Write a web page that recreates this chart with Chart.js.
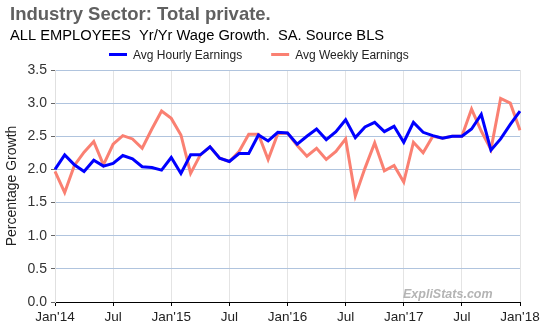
<!DOCTYPE html>
<html>
<head>
<meta charset="utf-8">
<script src="https://cdn.jsdelivr.net/npm/chart.js@4/dist/chart.umd.min.js"></script>
<style>
    html, body { margin: 0; padding: 0; background: #fff; }
    #box { width: 550px; height: 330px; }
</style>
</head>
<body>
<div id="box"><canvas id="wageChart"></canvas></div>
<script>

    // Jan'14 .. Jan'18, one entry per month
    const months = [];
    for (let y = 14; y <= 18; y++) {
        ["Jan","Feb","Mar","Apr","May","Jun","Jul","Aug","Sep","Oct","Nov","Dec"]
            .forEach(m => months.push(m + "'" + y));
    }
    months.length = 49;

    const tickLabels = ["Jan'14", "Jul", "Jan'15", "Jul", "Jan'16", "Jul", "Jan'17", "Jul", "Jan'18"];

    const seriesNames = ["Avg Hourly Earnings", "Avg Weekly Earnings"];

    const hourly = [
        2.00, 2.22, 2.07, 1.97, 2.14, 2.05, 2.09, 2.21, 2.16, 2.04, 2.03, 1.99,
        2.18, 1.94, 2.22, 2.22, 2.34, 2.17, 2.12, 2.24, 2.24, 2.52, 2.43, 2.56,
        2.55, 2.38, 2.50, 2.61, 2.45, 2.57, 2.75, 2.48, 2.64, 2.71, 2.57, 2.65,
        2.41, 2.71, 2.56, 2.51, 2.47, 2.50, 2.50, 2.61, 2.83, 2.29, 2.46, 2.68,
        2.88
    ];

    const weekly = [
        1.97, 1.65, 2.06, 2.26, 2.42, 2.07, 2.38, 2.51, 2.46, 2.32, 2.61, 2.88,
        2.77, 2.52, 1.94, 2.22, 2.34, 2.17, 2.12, 2.27, 2.53, 2.53, 2.15, 2.54,
        2.55, 2.36, 2.20, 2.32, 2.15, 2.27, 2.46, 1.60, 2.02, 2.40, 1.98, 2.06,
        1.81, 2.41, 2.25, 2.50, 2.47, 2.50, 2.50, 2.91, 2.58, 2.30, 3.07, 3.00,
        2.59
    ];

    const FONT = "'Liberation Sans', Arial, sans-serif";

    // header text, hand-drawn legend and the watermark
    const decor = {
        id: "decor",
        afterDraw(chart) {
            const c = chart.ctx;
            c.save();
            c.textBaseline = "alphabetic";
            c.textAlign = "left";

            c.fillStyle = "#606060";
            c.font = "bold 18.5px " + FONT;
            c.fillText("Industry Sector: Total private.", 10, 20);

            c.fillStyle = "#000";
            c.font = "14.7px " + FONT;
            c.fillText("ALL EMPLOYEES  Yr/Yr Wage Growth.  SA. Source BLS", 10, 40);

            c.font = "12px " + FONT;
            let x = 109;
            chart.data.datasets.forEach(ds => {
                c.strokeStyle = ds.borderColor;
                c.lineWidth = 3;
                c.beginPath();
                c.moveTo(x, 54.5);
                c.lineTo(x + 18, 54.5);
                c.stroke();
                c.fillStyle = "#222";
                c.fillText(ds.label, x + 24, 58.5);
                x += 24 + c.measureText(ds.label).width + 29;
            });

            c.fillStyle = "#b4b4b4";
            c.font = "italic bold 12.5px " + FONT;
            c.fillText("ExpliStats.com", 403, 298);
            c.restore();
        }
    };

    new Chart(document.getElementById("wageChart"), {
        type: "line",
        data: {
            labels: months,
            datasets: [{
                label: seriesNames[0],
                data: hourly,
                borderColor: "#0000ff",
                borderWidth: 3
            }, {
                label: seriesNames[1],
                data: weekly,
                borderColor: "#fa8072",
                borderWidth: 3
            }]
        },
        options: {
            responsive: true,
            maintainAspectRatio: false,
            animation: false,
            events: [],
            elements: {
                point: { radius: 0 },
                line: { tension: 0 }
            },
            layout: {
                padding: { top: 70, right: 30, bottom: 0, left: 0 }
            },
            plugins: {
                legend: { display: false },
                tooltip: { enabled: false }
            },
            scales: {
                x: {
                    afterFit: s => { s.height = 28; },
                    grid: {
                        color: ctx => ctx.index % 6 === 0 ? "#e4e4e4" : "rgba(0,0,0,0)",
                        tickColor: ctx => ctx.index % 6 === 0 ? "#000" : "rgba(0,0,0,0)",
                        tickLength: 4
                    },
                    border: { color: "#000", width: 1 },
                    ticks: {
                        autoSkip: false,
                        maxRotation: 0,
                        padding: 3,
                        color: "#222",
                        font: { family: FONT, size: 13.5 },
                        callback: (v, i) => i % 6 === 0 ? tickLabels[i / 6] : ""
                    }
                },
                y: {
                    min: 0,
                    max: 3.5,
                    afterFit: s => { s.width = 55; },
                    grid: {
                        color: "#b0c4de",
                        tickColor: "#666",
                        tickLength: 4
                    },
                    border: { color: "#e0e0e0" },
                    ticks: {
                        stepSize: 0.5,
                        padding: 4,
                        color: "#333",
                        font: { family: FONT, size: 14 },
                        callback: v => v.toFixed(1)
                    },
                    title: {
                        display: true,
                        text: "Percentage Growth",
                        color: "#222",
                        font: { family: FONT, size: 14 },
                        padding: { top: 4, bottom: 0 }
                    }
                }
            }
        },
        plugins: [decor]
    });

</script>
</body>
</html>
